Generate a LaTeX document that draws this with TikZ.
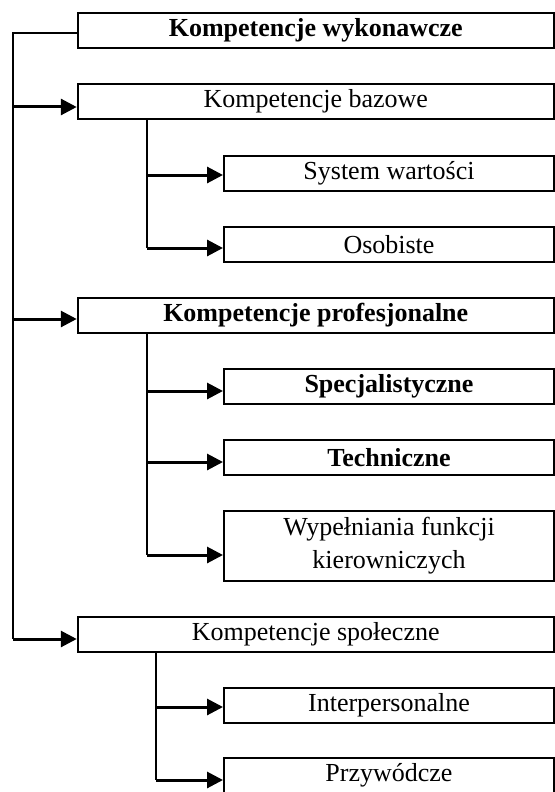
\documentclass[tikz,border=0pt]{standalone}
\usepackage{fontspec}
\setmainfont{Liberation Serif}
\usetikzlibrary{arrows.meta}

\begin{document}
\begin{tikzpicture}[x=0.5pt, y=-0.5pt, line width=1pt,
		box/.style={draw, rectangle, inner sep=0pt, minimum height=17.5pt,
			font=\fontsize{13}{15.6}\selectfont},
		wide/.style={box, minimum width=238pt},
		narrow/.style={box, minimum width=165pt},
		arr/.style={line width=1.5pt, -{Triangle[length=8pt, width=8pt]}}]
	\useasboundingbox (0,0) rectangle (555,792);
	
	% Boxes
	\node[wide, font=\fontsize{13}{15.6}\selectfont\bfseries] (wyk) at (315.75, 30.3) {Kompetencje wykonawcze};
	\node[wide] (baz) at (315.75, 101.5) {Kompetencje bazowe};
	\node[narrow] (sys) at (389, 173) {System wartości};
	\node[narrow] (oso) at (389, 244.5) {Osobiste};
	\node[wide, font=\fontsize{13}{15.6}\selectfont\bfseries] (pro) at (315.75, 315) {Kompetencje profesjonalne};
	\node[narrow, font=\fontsize{13}{15.6}\selectfont\bfseries] (spe) at (389, 386) {Specjalistyczne};
	\node[narrow, font=\fontsize{13}{15.6}\selectfont\bfseries] (tec) at (389, 457.5) {Techniczne};
	\node[narrow, minimum height=35pt, align=center, font=\fontsize{13}{16.5}\selectfont] (wyp) at (389, 546) {Wypełniania funkcji\\kierowniczych};
	\node[wide] (spo) at (315.75, 634.5) {Kompetencje społeczne};
	\node[narrow] (int) at (389, 705) {Interpersonalne};
	\node[narrow] (prz) at (389, 775.5) {Przywódcze};
	
	% Main spine
	\coordinate (k0) at (13, 33.5);
	\coordinate (k1) at (13, 107);
	\coordinate (k2) at (13, 319);
	\coordinate (k3) at (13, 639);
	\draw (k0 -| wyk.west) -- (k0) -- (k3);
	\draw[arr] (k1) -- (k1 -| baz.west);
	\draw[arr] (k2) -- (k2 -| pro.west);
	\draw[arr] (k3) -- (k3 -| spo.west);
	
	% Bazowe branch
	\coordinate (b1) at (147, 175);
	\coordinate (b2) at (147, 248);
	\draw (b1 |- baz.south) -- (b2);
	\draw[arr] (b1) -- (b1 -| sys.west);
	\draw[arr] (b2) -- (b2 -| oso.west);
	
	% Profesjonalne branch
	\coordinate (p1) at (147, 391);
	\coordinate (p2) at (147, 462);
	\coordinate (p3) at (147, 555);
	\draw (p1 |- pro.south) -- (p3);
	\draw[arr] (p1) -- (p1 -| spe.west);
	\draw[arr] (p2) -- (p2 -| tec.west);
	\draw[arr] (p3) -- (p3 -| wyp.west);
	
	% Spoleczne branch
	\coordinate (s1) at (155.5, 707);
	\coordinate (s2) at (155.5, 780);
	\draw (s1 |- spo.south) -- (s2);
	\draw[arr] (s1) -- (s1 -| int.west);
	\draw[arr] (s2) -- (s2 -| prz.west);
\end{tikzpicture}
\end{document}
